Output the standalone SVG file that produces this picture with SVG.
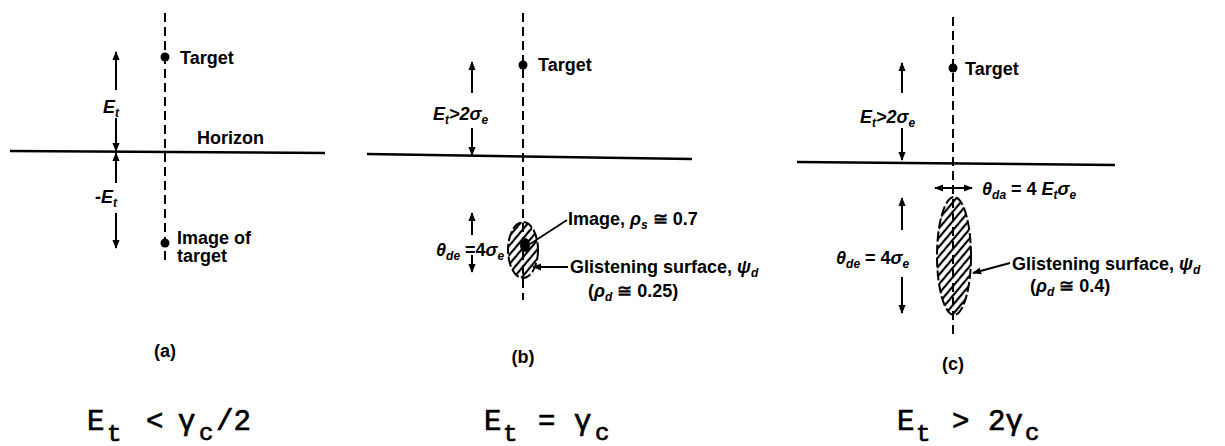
<svg xmlns="http://www.w3.org/2000/svg" width="1225" height="446" viewBox="0 0 1225 446">
<style>
.lbl{font-family:"Liberation Sans",Arial,sans-serif;font-weight:bold;font-size:18px;fill:#000}
.it{font-style:italic}
.sub{font-size:12px}
.mono{font-family:"Liberation Mono","Courier New",monospace;font-weight:normal;font-size:29px;fill:#000;stroke:#000;stroke-width:0.7}
.msub{font-size:24px}
.dash{stroke:#000;stroke-width:2;stroke-dasharray:9 5;fill:none}
.hor{stroke:#000;stroke-width:2.5;fill:none}
.arr{stroke:#000;stroke-width:2;fill:none;marker-end:url(#ah)}
.arr2{stroke:#000;stroke-width:2;fill:none;marker-end:url(#ah);marker-start:url(#ah)}
.lead{stroke:#000;stroke-width:1.8;fill:none}
.hatch{fill:url(#hatch);stroke:#000;stroke-width:2;stroke-dasharray:10 3}
</style>
<defs>
<marker id="ah" viewBox="0 0 10 10" refX="9" refY="5" markerWidth="9" markerHeight="9" orient="auto-start-reverse" markerUnits="userSpaceOnUse">
<path d="M0,1 L10,5 L0,9 z" fill="#000"/>
</marker>
<pattern id="hatch" patternUnits="userSpaceOnUse" width="6" height="6" patternTransform="rotate(40)">
<line x1="2" y1="0" x2="2" y2="6" stroke="#000" stroke-width="2.2"/>
</pattern>
</defs>

<g id="panel-a">
<line class="dash" x1="165" y1="13" x2="165" y2="262"/>
<line class="hor" x1="10" y1="151" x2="325" y2="153"/>
<circle cx="165" cy="57" r="4.5"/>
<text class="lbl" x="180" y="64">Target</text>
<text class="lbl" x="197" y="144">Horizon</text>
<circle cx="165" cy="243" r="4.5"/>
<text class="lbl" x="177" y="244">Image of</text>
<text class="lbl" x="177" y="262">target</text>
<line class="arr" x1="116" y1="90" x2="116" y2="52"/>
<line class="arr" x1="116" y1="118" x2="116" y2="151"/>
<line class="arr" x1="116" y1="183" x2="116" y2="153"/>
<line class="arr" x1="116" y1="213" x2="116" y2="248"/>
<text class="lbl it" x="103" y="113">E<tspan class="sub" dy="4">t</tspan></text>
<text class="lbl it" x="95" y="203">-E<tspan class="sub" dy="4">t</tspan></text>
<text class="lbl" x="165" y="357" text-anchor="middle">(a)</text>
</g>

<g id="panel-b">
<line class="dash" x1="523" y1="13" x2="523" y2="300"/>
<line class="hor" x1="367" y1="154" x2="692" y2="159"/>
<circle cx="523" cy="65" r="4.5"/>
<text class="lbl" x="538" y="71">Target</text>
<line class="arr" x1="472" y1="93" x2="472" y2="62"/>
<line class="arr" x1="472" y1="128" x2="472" y2="155"/>
<text class="lbl it" x="433" y="120">E<tspan class="sub" dy="4">t</tspan><tspan dy="-4">&gt;2σ</tspan><tspan class="sub" dy="4">e</tspan></text>
<line class="arr" x1="472" y1="235" x2="472" y2="213"/>
<line class="arr" x1="472" y1="255" x2="472" y2="272"/>
<text class="lbl it" x="436" y="256">θ<tspan class="sub" dy="4">de</tspan><tspan dy="-4" font-style="normal"> =4</tspan>σ<tspan class="sub" dy="4">e</tspan></text>
<ellipse class="hatch" cx="523" cy="250" rx="15" ry="28"/>
<ellipse cx="525" cy="245" rx="5" ry="7"/>
<polyline class="lead" points="530,244 567,220"/>
<text class="lbl" x="568" y="225">Image, <tspan class="it">ρ</tspan><tspan class="sub it" dy="4">s</tspan><tspan dy="-4"> ≅ 0.7</tspan></text>
<line class="arr" x1="568" y1="267" x2="533" y2="267"/>
<text class="lbl" x="570" y="273">Glistening surface, <tspan class="it">ψ</tspan><tspan class="sub it" dy="4">d</tspan></text>
<text class="lbl" x="588" y="297">(<tspan class="it">ρ</tspan><tspan class="sub it" dy="4">d</tspan><tspan dy="-4"> ≅ 0.25)</tspan></text>
<text class="lbl" x="523" y="363" text-anchor="middle">(b)</text>
</g>

<g id="panel-c">
<line class="dash" x1="953" y1="17" x2="953" y2="335"/>
<line class="hor" x1="797" y1="162" x2="1115" y2="165"/>
<circle cx="953" cy="68" r="4.5"/>
<text class="lbl" x="965" y="75">Target</text>
<line class="arr" x1="902" y1="93" x2="902" y2="63"/>
<line class="arr" x1="902" y1="128" x2="902" y2="160"/>
<text class="lbl it" x="860" y="123">E<tspan class="sub" dy="4">t</tspan><tspan dy="-4">&gt;2σ</tspan><tspan class="sub" dy="4">e</tspan></text>
<line class="arr2" x1="935" y1="188" x2="972" y2="188"/>
<text class="lbl it" x="982" y="195">θ<tspan class="sub" dy="4">da</tspan><tspan dy="-4" font-style="normal"> = 4 </tspan>E<tspan class="sub" dy="4">t</tspan><tspan dy="-4">σ</tspan><tspan class="sub" dy="4">e</tspan></text>
<line class="arr" x1="902" y1="230" x2="902" y2="198"/>
<line class="arr" x1="902" y1="277" x2="902" y2="313"/>
<text class="lbl it" x="836" y="264">θ<tspan class="sub" dy="4">de</tspan><tspan dy="-4" font-style="normal"> = 4</tspan>σ<tspan class="sub" dy="4">e</tspan></text>
<ellipse class="hatch" cx="954" cy="256" rx="17" ry="59"/>
<line class="arr" x1="1010" y1="263" x2="973" y2="273"/>
<text class="lbl" x="1012" y="270">Glistening surface, <tspan class="it">ψ</tspan><tspan class="sub it" dy="4">d</tspan></text>
<text class="lbl" x="1030" y="292">(<tspan class="it">ρ</tspan><tspan class="sub it" dy="4">d</tspan><tspan dy="-4"> ≅ 0.4)</tspan></text>
<text class="lbl" x="953" y="370" text-anchor="middle">(c)</text>
</g>

<g id="formulas">
<text class="mono" x="87" y="430">E</text><text class="mono msub" x="107" y="441">t</text>
<text class="mono" x="146" y="430">&lt;</text>
<text class="mono" x="178" y="430">γ</text><text class="mono msub" x="199" y="440">c</text>
<text class="mono" x="216" y="430">/2</text>
<text class="mono" x="484" y="430">E</text><text class="mono msub" x="503" y="441">t</text>
<text class="mono" x="538" y="430">=</text>
<text class="mono" x="574" y="430">γ</text><text class="mono msub" x="595" y="440">c</text>
<text class="mono" x="897" y="430">E</text><text class="mono msub" x="916" y="441">t</text>
<text class="mono" x="952" y="430">&gt;</text>
<text class="mono" x="988" y="430">2γ</text><text class="mono msub" x="1025" y="440">c</text>
</g>
</svg>
